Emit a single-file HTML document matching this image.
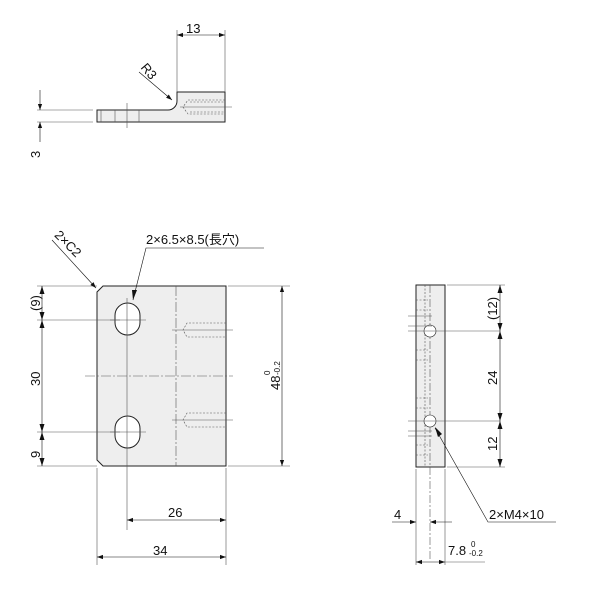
<!DOCTYPE html>
<html><head><style>body{margin:0;background:#fff}svg{display:block}text{font-family:"Liberation Sans","Noto Sans CJK JP",sans-serif;fill:#111}</style></head>
<body>
<svg width="600" height="600" viewBox="0 0 600 600" xmlns="http://www.w3.org/2000/svg">
<defs>
<marker id="a" viewBox="0 0 10 10" refX="10" refY="5" markerWidth="8" markerHeight="6" orient="auto-start-reverse" markerUnits="userSpaceOnUse"><path d="M0,1.5L10,5L0,8.5z" fill="#111"/></marker>
</defs>
<g stroke="#555" stroke-width="0.6" fill="none">
<!-- TOP VIEW -->
<path d="M97,110 H168 A9,9 0 0 0 177,101 V92 H225 V122 H97 Z" fill="#eee" stroke="#222" stroke-width="1"/>
<line x1="101" y1="110" x2="101" y2="122"/><line x1="115" y1="110" x2="115" y2="122"/><line x1="127" y1="103" x2="127" y2="128"/><line x1="139" y1="110" x2="139" y2="122"/>
<path d="M225,100 H188 L183,107 L188,114 H225 M190,102 H225 M190,112 H225" stroke-dasharray="2,1.5"/>
<line x1="180" y1="107" x2="232" y2="107"/>
<line x1="177" y1="92" x2="177" y2="30"/><line x1="225" y1="92" x2="225" y2="30"/>
<line x1="177" y1="35" x2="225" y2="35" marker-start="url(#a)" marker-end="url(#a)" stroke="#111"/>
<line x1="139" y1="72" x2="172" y2="100" marker-end="url(#a)" stroke="#111"/>
<line x1="37" y1="110" x2="93" y2="110"/><line x1="37" y1="122" x2="93" y2="122"/>
<line x1="40" y1="90" x2="40" y2="110" marker-end="url(#a)" stroke="#111"/>
<line x1="40" y1="142" x2="40" y2="122" marker-end="url(#a)" stroke="#111"/>
<!-- FRONT VIEW -->
<path d="M103,286 H226 V466 H103 L97,460 V292 Z" fill="#eee" stroke="#222" stroke-width="1"/>
<rect x="115" y="303" width="25" height="32" rx="12.5" fill="#fff" stroke="#222" stroke-width="1"/>
<rect x="115" y="416" width="25" height="32" rx="12.5" fill="#fff" stroke="#222" stroke-width="1"/>
<line x1="176" y1="286" x2="176" y2="466" stroke-dasharray="10,2,2,2"/>
<path d="M226,323 H187 L183,330 L187,337 H226 M226,413 H187 L183,420 L187,427 H226" stroke-dasharray="2,1.5"/>
<line x1="172" y1="330" x2="233" y2="330"/><line x1="172" y1="420" x2="233" y2="420"/>
<line x1="85" y1="376" x2="233" y2="376" stroke-dasharray="10,2,2,2"/>
<line x1="127" y1="298" x2="127" y2="530"/>
<line x1="110" y1="320" x2="146" y2="320"/><line x1="110" y1="432" x2="146" y2="432"/>
<line x1="37" y1="286" x2="97" y2="286"/><line x1="37" y1="320" x2="120" y2="320"/><line x1="37" y1="432" x2="120" y2="432"/><line x1="37" y1="466" x2="97" y2="466"/>
<line x1="42" y1="286" x2="42" y2="466" stroke="#111"/>
<path d="M42,286 l-2.5,8 h5z M42,320 l-2.5,-8 h5z M42,320 l-2.5,8 h5z M42,432 l-2.5,-8 h5z M42,432 l-2.5,8 h5z M42,466 l-2.5,-8 h5z" fill="#111" stroke="none"/>
<line x1="228" y1="286" x2="290" y2="286"/><line x1="228" y1="466" x2="290" y2="466"/>
<line x1="282" y1="286" x2="282" y2="466" marker-start="url(#a)" marker-end="url(#a)" stroke="#111"/>
<line x1="97" y1="468" x2="97" y2="565"/><line x1="226" y1="468" x2="226" y2="565"/>
<line x1="127" y1="520" x2="226" y2="520" marker-start="url(#a)" marker-end="url(#a)" stroke="#111"/>
<line x1="97" y1="557" x2="226" y2="557" marker-start="url(#a)" marker-end="url(#a)" stroke="#111"/>
<line x1="52" y1="240" x2="96" y2="288" marker-end="url(#a)" stroke="#111"/>
<path d="M264,248 H146 L133,300" stroke="#111"/>
<path d="M137,290 l-4,10 l-1,-10z" fill="#111" stroke="none"/>
<!-- SIDE VIEW -->
<rect x="416" y="285" width="29" height="182" fill="#eee" stroke="#222" stroke-width="1"/>
<line x1="430" y1="285" x2="430" y2="560" stroke-dasharray="8,2,2,2"/>
<line x1="425" y1="285" x2="425" y2="467" stroke-dasharray="2,1.5"/>
<path d="M416,300 H428 M416,310 H428 M416,350 H428 M416,360 H428 M416,398 H428 M416,408 H428 M416,445 H428 M416,455 H428" stroke-dasharray="2,1.5"/>
<circle cx="430" cy="331" r="6" fill="#fff" stroke="#222"/><circle cx="430" cy="421" r="6" fill="#fff" stroke="#222"/>
<line x1="408" y1="316" x2="432" y2="316"/><line x1="408" y1="326" x2="432" y2="326"/>
<line x1="408" y1="331" x2="500" y2="331"/><line x1="408" y1="421" x2="500" y2="421"/>
<line x1="408" y1="431" x2="432" y2="431"/><line x1="408" y1="436" x2="432" y2="436"/>
<line x1="447" y1="285" x2="505" y2="285"/><line x1="447" y1="467" x2="505" y2="467"/>
<line x1="500" y1="285" x2="500" y2="467" stroke="#111"/>
<path d="M500,285 l-2.5,8 h5z M500,331 l-2.5,-8 h5z M500,331 l-2.5,8 h5z M500,421 l-2.5,-8 h5z M500,421 l-2.5,8 h5z M500,467 l-2.5,-8 h5z" fill="#111" stroke="none"/>
<line x1="416" y1="469" x2="416" y2="565"/><line x1="445" y1="469" x2="445" y2="565"/>
<line x1="392" y1="522" x2="416" y2="522" marker-end="url(#a)" stroke="#111"/>
<line x1="452" y1="522" x2="430" y2="522" marker-end="url(#a)" stroke="#111"/>
<line x1="416" y1="562" x2="445" y2="562" marker-start="url(#a)" marker-end="url(#a)" stroke="#111"/>
<line x1="445" y1="562" x2="485" y2="562"/>
<path d="M556,522 H488 L435,428" stroke="#111"/>
<path d="M435,427 l3,10 l4,-3z" fill="#111" stroke="none"/>
</g>
<g font-size="13">
<text x="186" y="33">13</text>
<text x="139" y="70" transform="rotate(50 142 70)">R3</text>
<text x="0" y="0" transform="translate(40,158) rotate(-90)">3</text>
<text x="52" y="240" transform="rotate(45 58 240)">2×C2</text>
<text x="146" y="244">2×6.5×8.5(長穴)</text>
<text transform="translate(40,311) rotate(-90)">(9)</text>
<text transform="translate(40,386) rotate(-90)">30</text>
<text transform="translate(40,458) rotate(-90)">9</text>
<text transform="translate(280,390) rotate(-90)">48</text>
<text font-size="8" transform="translate(270,375) rotate(-90)">0</text>
<text font-size="8" transform="translate(280,375) rotate(-90)">-0.2</text>
<text x="168" y="517">26</text>
<text x="153" y="555">34</text>
<text transform="translate(497,320) rotate(-90)">(12)</text>
<text transform="translate(497,385) rotate(-90)">24</text>
<text transform="translate(497,451) rotate(-90)">12</text>
<text x="394" y="519">4</text>
<text x="489" y="519">2×M4×10</text>
<text x="448" y="555">7.8</text>
<text x="471" y="547" font-size="8">0</text>
<text x="469" y="556" font-size="8">-0.2</text>
</g>
</svg>
</body></html>
